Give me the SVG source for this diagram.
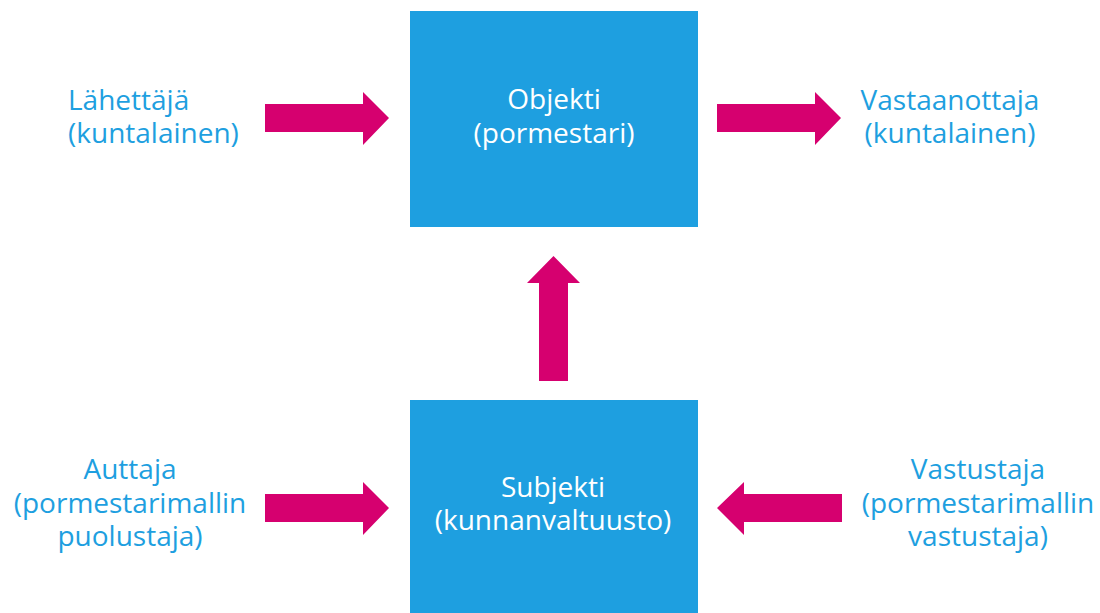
<svg xmlns="http://www.w3.org/2000/svg" width="1100" height="613" viewBox="0 0 1100 613">
  <style>
    .box { fill: #1E9FE0; }
    .arrow { fill: #D6006F; }
    .lbl { font-family: "Open Sans", "Noto Sans", "Liberation Sans", sans-serif; font-size: 28px; text-anchor: middle; }
    .left { text-anchor: start; }
    .out { fill: #1E9FE0; }
    .in { fill: #FFFFFF; }
  </style>
  <rect width="1100" height="613" fill="#FFFFFF"/>

  <g id="connectors">
    <!-- sender -> object -->
    <polygon class="arrow" points="265,104 363,104 363,92 389,118 363,145 363,132 265,132"/>
    <!-- object -> receiver -->
    <polygon class="arrow" points="717,104 815,104 815,92 841,118 815,145 815,132 717,132"/>
    <!-- subject -> object -->
    <polygon class="arrow" points="539,381 539,283 527,283 553.5,256 580,283 568,283 568,381"/>
    <!-- helper -> subject -->
    <polygon class="arrow" points="265,494 363,494 363,482 389,508 363,535 363,522 265,522"/>
    <!-- opponent -> subject -->
    <polygon class="arrow" points="842,494 744,494 744,482 717,508 744,535 744,522 842,522"/>
  </g>

  <g id="objekti">
    <rect class="box" x="410" y="11" width="288" height="216"/>
    <text class="lbl in" x="554" y="109">Objekti</text>
    <text class="lbl in" x="554" y="143">(pormestari)</text>
  </g>

  <g id="subjekti">
    <rect class="box" x="410" y="400" width="288" height="213"/>
    <text class="lbl in" x="553" y="497">Subjekti</text>
    <text class="lbl in" x="553" y="530">(kunnanvaltuusto)</text>
  </g>

  <g id="lahettaja">
    <text class="lbl out left" x="68" y="110">Lähettäjä</text>
    <text class="lbl out left" x="68" y="143">(kuntalainen)</text>
  </g>

  <g id="vastaanottaja">
    <text class="lbl out" x="950" y="110">Vastaanottaja</text>
    <text class="lbl out" x="950" y="143">(kuntalainen)</text>
  </g>

  <g id="auttaja">
    <text class="lbl out" x="130" y="479">Auttaja</text>
    <text class="lbl out" x="130" y="513">(pormestarimallin</text>
    <text class="lbl out" x="130" y="546">puolustaja)</text>
  </g>

  <g id="vastustaja">
    <text class="lbl out" x="978" y="479">Vastustaja</text>
    <text class="lbl out" x="978" y="513">(pormestarimallin</text>
    <text class="lbl out" x="978" y="546">vastustaja)</text>
  </g>
</svg>
